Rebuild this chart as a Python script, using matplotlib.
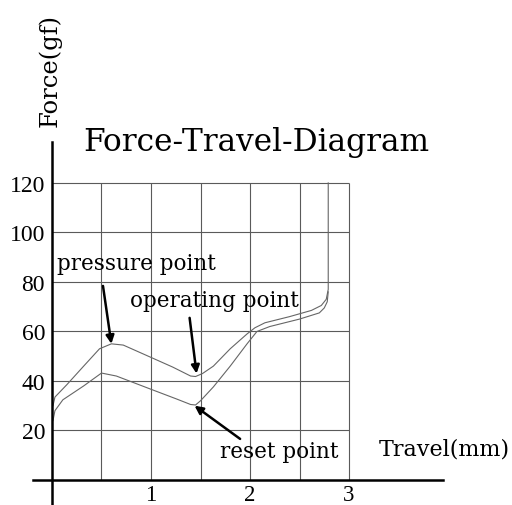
"""Force-travel diagram of a key switch (press / release curves)."""
import matplotlib
matplotlib.use('Agg')
import matplotlib.pyplot as plt

# Press stroke (upper curve), travel in mm / force in gf
press_x = [0.01, 0.03, 0.15, 0.32, 0.48, 0.60, 0.72, 0.99, 1.22, 1.40, 1.45,
           1.52, 1.63, 1.80, 1.97, 2.05, 2.15, 2.40, 2.62, 2.72, 2.77, 2.79, 2.79]
press_y = [30.0, 33.5, 38.5, 46.0, 53.0, 55.0, 54.5, 49.7, 45.6, 42.0, 41.8,
           43.0, 46.0, 53.0, 59.0, 61.5, 63.5, 66.0, 68.5, 70.5, 73.0, 77.0, 120.0]

# Release stroke (lower curve)
release_x = [0.01, 0.03, 0.11, 0.32, 0.50, 0.65, 0.99, 1.26, 1.40, 1.45, 1.50,
             1.63, 1.80, 1.97, 2.07, 2.20, 2.50, 2.70, 2.75, 2.78, 2.79]
release_y = [24.0, 28.0, 32.4, 38.0, 43.2, 42.0, 36.8, 32.7, 30.5, 30.3, 32.0,
             37.6, 46.0, 55.0, 60.0, 62.0, 65.0, 67.5, 69.5, 72.0, 76.0]

y_ticks = [20, 40, 60, 80, 100, 120]
x_ticks = [1, 2, 3]
x_grid = [0.5, 1.0, 1.5, 2.0, 2.5, 3.0]

# (label, text position, arrow tip)
notes = [
    ('pressure point', (0.05, 85.3), (0.60, 55.0)),
    ('operating point', (0.79, 70.3), (1.46, 43.0)),
    ('reset point', (1.70, 9.4), (1.44, 30.0)),
]
arrow_tails = [(0.515, 78.4), (1.39, 65.5), (1.90, 16.6)]

SERIF = 'DejaVu Serif'
GRID = '#5a5a5a'
CURVE = '#666666'

fig = plt.figure(figsize=(5.12, 5.06), dpi=100)
ax = fig.add_axes([0, 0, 1, 1])
ax.set_xlim(-0.525, 4.646)
ax.set_ylim(-10.1, 194.3)

for spine in ('top', 'right'):
    ax.spines[spine].set_visible(False)
ax.spines['left'].set_position(('data', 0))
ax.spines['bottom'].set_position(('data', 0))
ax.spines['left'].set_bounds(-9.7, 136.6)
ax.spines['bottom'].set_bounds(-0.19, 3.95)
for spine in ('left', 'bottom'):
    ax.spines[spine].set_linewidth(1.8)
    ax.spines[spine].set_color('black')

ax.set_yticks(y_ticks)
ax.set_yticklabels([str(v) for v in y_ticks], family='Liberation Serif', fontsize=17)
ax.set_xticks(x_ticks)
ax.set_xticklabels([str(v) for v in x_ticks], family='Liberation Serif', fontsize=16.5)
ax.tick_params(axis='y', length=0, pad=5)
ax.tick_params(axis='x', length=0, pad=3)

ax.hlines(y_ticks, 0, x_grid[-1], color=GRID, linewidth=0.8, zorder=1)
ax.vlines(x_grid, 0, y_ticks[-1], color=GRID, linewidth=0.8, zorder=1)

ax.plot(press_x, press_y, color=CURVE, linewidth=0.8, zorder=2)
ax.plot(release_x, release_y, color=CURVE, linewidth=0.8, zorder=2)

for (label, text_pos, tip), tail in zip(notes, arrow_tails):
    ax.text(text_pos[0], text_pos[1], label, family=SERIF, fontsize=15.5,
            ha='left', va='baseline', zorder=4)
    ax.annotate('', xy=tip, xytext=tail,
                arrowprops=dict(arrowstyle='-|>', color='black', lw=1.8,
                                mutation_scale=12, shrinkA=0, shrinkB=0),
                zorder=5)

ax.text(2.06, 133.3, 'Force-Travel-Diagram', family=SERIF, fontsize=22.5,
        ha='center', va='baseline')
ax.text(3.30, 10.1, 'Travel(mm)', family=SERIF, fontsize=16,
        ha='left', va='baseline')
ax.text(-0.025, 166.0, 'Force(gf)', family=SERIF, fontsize=17.5,
        rotation=90, ha='center', va='center')

fig.savefig('out.png', dpi=100)
